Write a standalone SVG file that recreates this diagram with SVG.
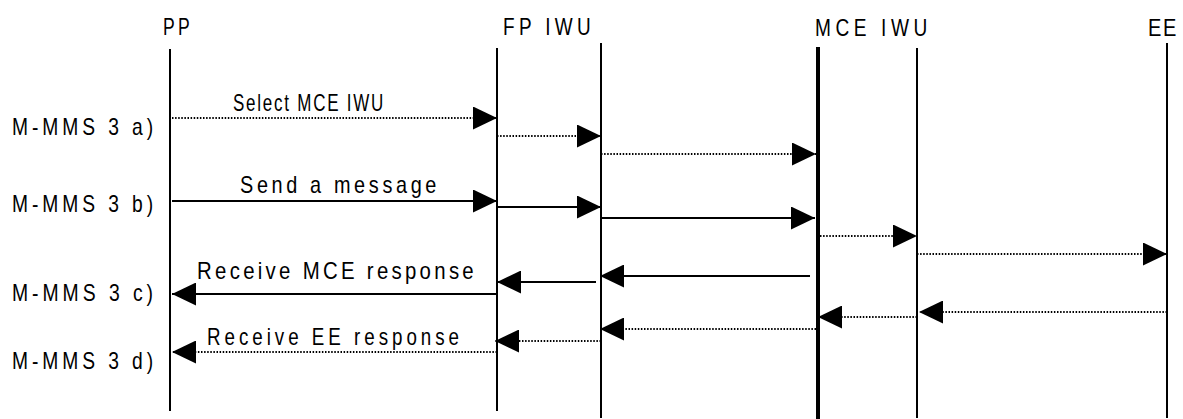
<svg xmlns="http://www.w3.org/2000/svg" width="1183" height="419" viewBox="0 0 1183 419">
<style>
text{font-family:"Liberation Sans",Arial,sans-serif;font-size:24px;fill:#000}
.life{stroke:#000;stroke-width:2;fill:none}
.thick{stroke-width:4}
.msg{stroke:#000;stroke-width:2;fill:none;marker-end:url(#ah)}
.dot{stroke-width:2;stroke-dasharray:1.5 1.6}
</style>
<defs>
<marker id="ah" markerUnits="userSpaceOnUse" markerWidth="24" markerHeight="23" refX="24" refY="11.5" orient="auto" viewBox="0 0 24 23">
<path d="M0,0 L24,11.5 L0,23 z" fill="#000"/>
</marker>
</defs>
<rect width="1183" height="419" fill="#fff"/>
<g id="node-pp">
<line class="life" x1="170" y1="49" x2="170" y2="411"/>
<text x="163" y="35" letter-spacing="4.5" textLength="30" lengthAdjust="spacingAndGlyphs">PP</text>
</g>
<g id="node-fp-iwu">
<line class="life" x1="497" y1="48" x2="497" y2="411"/>
<line class="life" x1="601" y1="43" x2="601" y2="418"/>
<text x="503" y="35" letter-spacing="5.5" textLength="92" lengthAdjust="spacingAndGlyphs">FP IWU</text>
</g>
<g id="node-mce-iwu">
<line class="life thick" x1="818" y1="47" x2="818" y2="419"/>
<line class="life" x1="917" y1="48" x2="917" y2="418"/>
<text x="815" y="36" letter-spacing="5.8" textLength="117" lengthAdjust="spacingAndGlyphs">MCE IWU</text>
</g>
<g id="node-ee">
<line class="life" x1="1167" y1="43" x2="1167" y2="418"/>
<text x="1148" y="36" letter-spacing="2" textLength="30" lengthAdjust="spacingAndGlyphs">EE</text>
</g>
<g id="steps">
<text x="12" y="135" letter-spacing="4.9" textLength="145" lengthAdjust="spacingAndGlyphs">M-MMS 3 a)</text>
<text x="12" y="212" letter-spacing="4.9" textLength="145" lengthAdjust="spacingAndGlyphs">M-MMS 3 b)</text>
<text x="12" y="301" letter-spacing="4.9" textLength="145" lengthAdjust="spacingAndGlyphs">M-MMS 3 c)</text>
<text x="12" y="369" letter-spacing="4.9" textLength="145" lengthAdjust="spacingAndGlyphs">M-MMS 3 d)</text>
</g>
<g id="connectors">
<line class="msg dot" x1="172" y1="118" x2="497" y2="118"/>
<line class="msg dot" x1="497" y1="136" x2="601" y2="136"/>
<line class="msg dot" x1="601" y1="154" x2="816" y2="154"/>
<line class="msg" x1="172" y1="201" x2="497" y2="201"/>
<line class="msg" x1="497" y1="207" x2="601" y2="207"/>
<line class="msg" x1="601" y1="218" x2="815" y2="218"/>
<line class="msg dot" x1="820" y1="236" x2="917" y2="236"/>
<line class="msg dot" x1="917" y1="254" x2="1167" y2="254"/>
<line class="msg" x1="810" y1="276" x2="600" y2="276"/>
<line class="msg" x1="596" y1="282" x2="497" y2="282"/>
<line class="msg" x1="497" y1="294" x2="172" y2="294"/>
<line class="msg dot" x1="1167" y1="312" x2="919" y2="312"/>
<line class="msg dot" x1="917" y1="317" x2="818" y2="317"/>
<line class="msg dot" x1="816" y1="329" x2="600" y2="329"/>
<line class="msg dot" x1="601" y1="341" x2="495" y2="341"/>
<line class="msg dot" x1="497" y1="352" x2="172" y2="352"/>
<text x="233" y="111" letter-spacing="2.5" textLength="152" lengthAdjust="spacingAndGlyphs">Select MCE IWU</text>
<text x="240" y="193" letter-spacing="4.4" textLength="200" lengthAdjust="spacingAndGlyphs">Send a message</text>
<text x="197" y="279" letter-spacing="3.9" textLength="280" lengthAdjust="spacingAndGlyphs">Receive MCE response</text>
<text x="207" y="345" letter-spacing="5.1" textLength="256" lengthAdjust="spacingAndGlyphs">Receive EE response</text>
</g>
</svg>
